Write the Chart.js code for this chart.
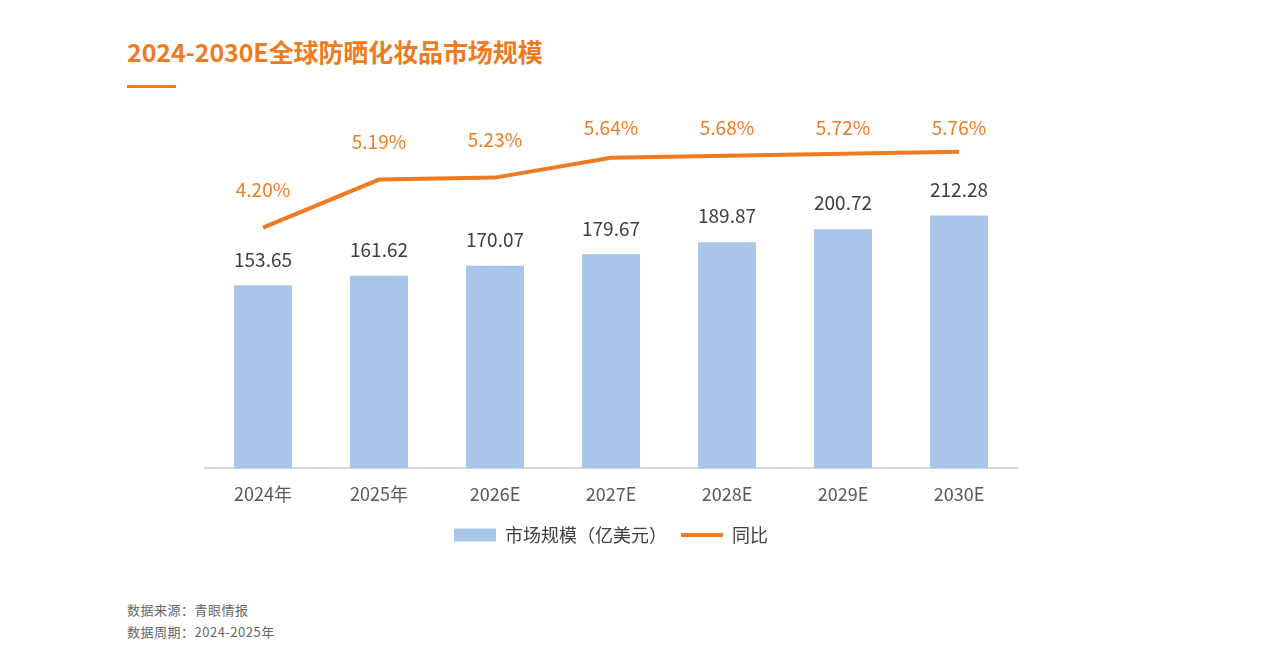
<!DOCTYPE html>
<html>
<head>
<meta charset="utf-8">
<script src="https://cdn.jsdelivr.net/npm/chart.js@4"></script>
<style>
  body { margin: 0; background: #fff; font-family: "Noto Sans CJK SC", "Noto Sans", sans-serif; }
  #page { position: relative; width: 1270px; height: 667px; overflow: hidden; }
  #title { position: absolute; left: 127px; top: 33px; font-size: 25px; font-weight: bold; color: #EE7B22; letter-spacing: -0.1px; }
  #rule { position: absolute; left: 127px; top: 85px; width: 49px; height: 3px; background: #EE7B22; }
  #chartBox { position: absolute; left: 0; top: 0; width: 1270px; height: 554px; }
  .note { position: absolute; left: 127px; font-size: 13px; color: #666; letter-spacing: 0.5px; }
</style>
</head>
<body>
<div id="page">
  <div id="title">2024-2030E全球防晒化妆品市场规模</div>
  <div id="rule"></div>
  <div id="chartBox"><canvas id="chart"></canvas></div>
  <div class="note" style="top:600px">数据来源：青眼情报</div>
  <div class="note" style="top:622px">数据周期：2024-2025年</div>
</div>
<script>
// chart data
const years = ['2024年', '2025年', '2026E', '2027E', '2028E', '2029E', '2030E'];
const marketSize = [153.65, 161.62, 170.07, 179.67, 189.87, 200.72, 212.28];
const growth = [4.20, 5.19, 5.23, 5.64, 5.68, 5.72, 5.76];

const orange = '#EE7B22';
const blue = '#A9C5E9';
const fontFamily = '"Noto Sans CJK SC", "Noto Sans", sans-serif';

// draw value labels above bars and line points (line labels kept inside the top)
const valueLabels = {
    id: 'valueLabels',
    afterDatasetsDraw(chart) {
        const ctx = chart.ctx;
        const minY = chart.chartArea.top + 17;
        ctx.save();
        ctx.textAlign = 'center';
        ctx.textBaseline = 'middle';
        ctx.font = '19px ' + fontFamily;
        chart.getDatasetMeta(0).data.forEach((bar, i) => {
            ctx.fillStyle = '#404040';
            ctx.fillText(marketSize[i].toFixed(2), bar.x, bar.y - 26);
        });
        chart.getDatasetMeta(1).data.forEach((pt, i) => {
            ctx.fillStyle = orange;
            ctx.fillText(growth[i].toFixed(2) + '%', pt.x, Math.max(pt.y - 38, minY));
        });
        ctx.restore();
    }
};

new Chart(document.getElementById('chart'), {
    data: {
        labels: years,
        datasets: [
            {
                type: 'bar',
                label: '市场规模（亿美元）',
                data: marketSize,
                backgroundColor: blue,
                borderWidth: 0,
                barPercentage: 0.5,
                categoryPercentage: 1,
                pointStyle: 'rect',
                yAxisID: 'y',
                order: 2
            },
            {
                type: 'line',
                label: '同比',
                data: growth,
                borderColor: orange,
                backgroundColor: orange,
                borderWidth: 4,
                pointRadius: 0,
                pointStyle: 'line',
                tension: 0,
                yAxisID: 'y1',
                order: 1
            }
        ]
    },
    options: {
        responsive: true,
        maintainAspectRatio: false,
        animation: false,
        layout: { padding: { left: 205, right: 253, top: 111, bottom: 0 } },
        plugins: {
            legend: {
                position: 'bottom',
                labels: {
                    usePointStyle: true,
                    pointStyleWidth: 42,
                    boxHeight: 13,
                    padding: 14,
                    color: '#404040',
                    font: { size: 18, family: fontFamily },
                    sort: (a, b) => a.datasetIndex - b.datasetIndex
                }
            },
            tooltip: { enabled: false }
        },
        scales: {
            x: {
                grid: { display: false },
                border: { color: '#D9D9D9', width: 2 },
                ticks: { color: '#595959', padding: 7, font: { size: 18, family: fontFamily } }
            },
            y: { display: false, min: 0, max: 300 },
            y1: { display: false, min: -0.75, max: 6.6 }
        }
    },
    plugins: [valueLabels]
});
</script>
</body>
</html>
